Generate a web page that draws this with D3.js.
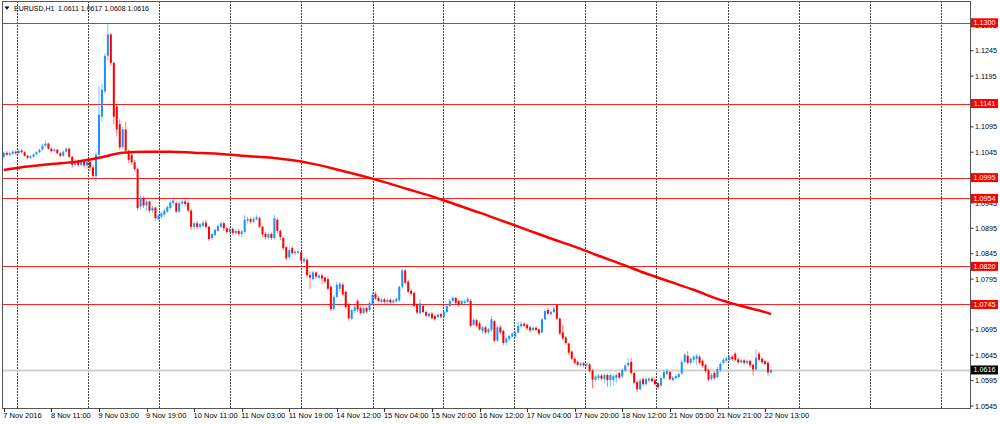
<!DOCTYPE html>
<html><head><meta charset="utf-8">
<script src="https://cdn.jsdelivr.net/npm/d3@7"></script>
<style>html,body{margin:0;padding:0;background:#fff;} svg{display:block;}</style>
</head><body>
<svg id="chart" width="1000" height="424"></svg>
<script>
// ---------- DATA ----------
const symbolTitle = "EURUSD,H1";
const titleQuote = "1.0611 1.0617 1.0608 1.0616";

const timeLabels = ["7 Nov 2016","8 Nov 11:00","9 Nov 03:00","9 Nov 19:00","10 Nov 11:00","11 Nov 03:00",
  "11 Nov 19:00","14 Nov 12:00","15 Nov 04:00","15 Nov 20:00","16 Nov 12:00","17 Nov 04:00",
  "17 Nov 20:00","18 Nov 12:00","21 Nov 05:00","21 Nov 21:00","22 Nov 13:00"];
const timeLabelBars = [0,16,32,48,64,80,96,112,128,144,160,176,192,208,224,240,256];

const gridBars = [4.5,28.4,52.3,76.2,100.1,124.0,147.8,171.7,195.6,219.5,243.4,267.3,291.2,315.1];

const priceTicks = ["1.0545","1.0595","1.0645","1.0695","1.0745","1.0795","1.0845","1.0895","1.0945",
  "1.0995","1.1045","1.1095","1.1145","1.1195","1.1245","1.1295"];

const levelLines = [1.1300, 1.1141, 1.0995, 1.0954, 1.0820, 1.0745];
const lastPrice = 1.0616;

const opens = [
1.1036,1.1044,1.1040,1.1042,1.1046,1.1043,1.1048,1.1045,1.1038,1.1034,
1.1036,1.1041,1.1045,1.1050,1.1058,1.1062,1.1052,1.1047,1.1050,1.1043,
1.1038,1.1046,1.1052,1.1036,1.1020,1.1028,1.1020,1.1027,1.1019,1.1026,
1.1015,1.0998,1.1040,1.1115,1.1165,1.1235,1.1277,1.1221,1.1135,1.1100,
1.1055,1.1090,1.1048,1.1040,1.1025,1.1012,1.0938,1.0955,1.0940,1.0948,
1.0930,1.0936,1.0913,1.0918,1.0922,1.0928,1.0935,1.0945,1.0945,1.0928,
1.0944,1.0948,1.0945,1.0930,1.0898,1.0905,1.0898,1.0900,1.0906,1.0898,
1.0876,1.0882,1.0890,1.0898,1.0905,1.0895,1.0888,1.0894,1.0886,1.0890,
1.0884,1.0888,1.0910,1.0913,1.0908,1.0913,1.0915,1.0898,1.0884,1.0877,
1.0884,1.0876,1.0912,1.0890,1.0876,1.0858,1.0838,1.0856,1.0846,1.0847,
1.0848,1.0830,1.0833,1.0803,1.0795,1.0808,1.0798,1.0802,1.0798,1.0795,
1.0780,1.0736,1.0760,1.0776,1.0784,1.0770,1.0745,1.0717,1.0732,1.0752,
1.0738,1.0728,1.0738,1.0734,1.0746,1.0766,1.0758,1.0750,1.0755,1.0750,
1.0754,1.0749,1.0751,1.0753,1.0780,1.0812,1.0790,1.0772,1.0768,1.0745,
1.0728,1.0742,1.0730,1.0722,1.0727,1.0722,1.0720,1.0726,1.0721,1.0730,
1.0742,1.0752,1.0758,1.0752,1.0746,1.0748,1.0750,1.0752,1.0705,1.0714,
1.0708,1.0693,1.0700,1.0690,1.0695,1.0712,1.0674,1.0700,1.0693,1.0670,
1.0677,1.0682,1.0682,1.0690,1.0702,1.0707,1.0705,1.0700,1.0695,1.0699,
1.0696,1.0690,1.0716,1.0734,1.0726,1.0730,1.0744,1.0717,1.0690,1.0680,
1.0668,1.0652,1.0638,1.0632,1.0625,1.0629,1.0625,1.0627,1.0615,1.0597,
1.0600,1.0605,1.0598,1.0606,1.0596,1.0596,1.0600,1.0610,1.0603,1.0615,
1.0625,1.0632,1.0610,1.0592,1.0578,1.0598,1.0588,1.0595,1.0599,1.0596,
1.0590,1.0585,1.0600,1.0608,1.0612,1.0596,1.0600,1.0602,1.0609,1.0632,
1.0644,1.0630,1.0636,1.0638,1.0642,1.0634,1.0626,1.0616,1.0598,1.0610,
1.0602,1.0616,1.0630,1.0634,1.0636,1.0642,1.0648,1.0637,1.0631,1.0635,
1.0630,1.0634,1.0626,1.0617,1.0648,1.0638,1.0633,1.0630,1.0611];

const highs = [
1.1046,1.1047,1.1045,1.1049,1.1049,1.1050,1.1052,1.1047,1.1040,1.1039,
1.1043,1.1047,1.1052,1.1062,1.1068,1.1064,1.1055,1.1053,1.1052,1.1046,
1.1049,1.1055,1.1054,1.1038,1.1032,1.1031,1.1030,1.1030,1.1030,1.1029,
1.1020,1.1046,1.1175,1.1180,1.1240,1.1299,1.1280,1.1224,1.1140,1.1110,
1.1095,1.1105,1.1050,1.1043,1.1030,1.1015,1.0960,1.0958,1.0952,1.0950,
1.0940,1.0938,1.0923,1.0928,1.0933,1.0940,1.0950,1.0958,1.0948,1.0950,
1.0952,1.0952,1.0950,1.0933,1.0908,1.0910,1.0906,1.0910,1.0912,1.0900,
1.0886,1.0895,1.0903,1.0908,1.0908,1.0898,1.0897,1.0897,1.0893,1.0894,
1.0892,1.0922,1.0918,1.0917,1.0918,1.0921,1.0918,1.0900,1.0888,1.0887,
1.0887,1.0922,1.0916,1.0893,1.0878,1.0860,1.0858,1.0860,1.0852,1.0853,
1.0850,1.0838,1.0836,1.0810,1.0812,1.0810,1.0805,1.0806,1.0800,1.0800,
1.0782,1.0764,1.0790,1.0790,1.0788,1.0772,1.0748,1.0737,1.0744,1.0756,
1.0742,1.0742,1.0741,1.0752,1.0770,1.0770,1.0762,1.0758,1.0758,1.0757,
1.0757,1.0756,1.0760,1.0782,1.0817,1.0815,1.0793,1.0776,1.0770,1.0748,
1.0755,1.0745,1.0733,1.0730,1.0730,1.0725,1.0728,1.0729,1.0733,1.0745,
1.0756,1.0762,1.0760,1.0755,1.0755,1.0754,1.0760,1.0756,1.0718,1.0717,
1.0712,1.0703,1.0703,1.0699,1.0722,1.0715,1.0704,1.0705,1.0696,1.0681,
1.0686,1.0690,1.0693,1.0710,1.0712,1.0710,1.0708,1.0703,1.0702,1.0702,
1.0698,1.0718,1.0736,1.0738,1.0733,1.0741,1.0746,1.0720,1.0705,1.0683,
1.0670,1.0655,1.0641,1.0635,1.0632,1.0632,1.0631,1.0630,1.0618,1.0606,
1.0608,1.0608,1.0610,1.0609,1.0609,1.0608,1.0610,1.0612,1.0619,1.0628,
1.0640,1.0640,1.0613,1.0595,1.0600,1.0601,1.0601,1.0602,1.0602,1.0599,
1.0592,1.0603,1.0616,1.0618,1.0614,1.0604,1.0607,1.0611,1.0635,1.0650,
1.0653,1.0642,1.0646,1.0648,1.0645,1.0637,1.0628,1.0618,1.0610,1.0613,
1.0622,1.0632,1.0640,1.0642,1.0645,1.0646,1.0652,1.0640,1.0638,1.0638,
1.0637,1.0636,1.0628,1.0657,1.0652,1.0642,1.0636,1.0634,1.0617];

const lows = [
1.1032,1.1038,1.1036,1.1040,1.1040,1.1041,1.1042,1.1036,1.1031,1.1031,
1.1034,1.1039,1.1043,1.1048,1.1055,1.1050,1.1044,1.1045,1.1041,1.1035,
1.1036,1.1044,1.1033,1.1015,1.1016,1.1016,1.1017,1.1015,1.1012,1.1008,
1.0993,1.0987,1.1036,1.1105,1.1160,1.1225,1.1215,1.1100,1.1076,1.1050,
1.1050,1.1045,1.1024,1.1020,1.1008,1.0930,1.0932,1.0935,1.0930,1.0925,
1.0925,1.0910,1.0910,1.0915,1.0918,1.0925,1.0932,1.0940,1.0925,1.0925,
1.0940,1.0938,1.0927,1.0892,1.0892,1.0893,1.0894,1.0897,1.0895,1.0870,
1.0872,1.0880,1.0888,1.0895,1.0890,1.0884,1.0885,1.0883,1.0882,1.0880,
1.0878,1.0885,1.0905,1.0904,1.0905,1.0910,1.0895,1.0878,1.0873,1.0873,
1.0872,1.0872,1.0885,1.0872,1.0852,1.0832,1.0834,1.0843,1.0842,1.0844,
1.0828,1.0826,1.0798,1.0776,1.0792,1.0796,1.0795,1.0785,1.0786,1.0773,
1.0732,1.0733,1.0757,1.0770,1.0762,1.0736,1.0713,1.0714,1.0728,1.0730,
1.0725,1.0726,1.0727,1.0730,1.0744,1.0754,1.0749,1.0747,1.0747,1.0746,
1.0746,1.0745,1.0748,1.0750,1.0776,1.0785,1.0767,1.0762,1.0739,1.0726,
1.0725,1.0727,1.0720,1.0718,1.0715,1.0713,1.0717,1.0718,1.0719,1.0728,
1.0740,1.0749,1.0745,1.0740,1.0744,1.0745,1.0748,1.0700,1.0702,1.0700,
1.0693,1.0688,1.0686,1.0686,1.0692,1.0670,1.0671,1.0686,1.0665,1.0665,
1.0673,1.0679,1.0680,1.0688,1.0699,1.0700,1.0695,1.0690,1.0692,1.0692,
1.0684,1.0688,1.0714,1.0724,1.0722,1.0728,1.0714,1.0685,1.0675,1.0665,
1.0646,1.0635,1.0627,1.0623,1.0622,1.0621,1.0622,1.0611,1.0580,1.0593,
1.0596,1.0595,1.0590,1.0583,1.0583,1.0585,1.0590,1.0598,1.0600,1.0612,
1.0622,1.0607,1.0588,1.0572,1.0575,1.0584,1.0584,1.0591,1.0591,1.0585,
1.0578,1.0582,1.0597,1.0605,1.0595,1.0593,1.0597,1.0599,1.0606,1.0630,
1.0627,1.0627,1.0630,1.0625,1.0627,1.0620,1.0610,1.0594,1.0595,1.0596,
1.0599,1.0612,1.0626,1.0630,1.0632,1.0634,1.0633,1.0628,1.0628,1.0627,
1.0627,1.0622,1.0605,1.0614,1.0633,1.0628,1.0625,1.0605,1.0608];

const closes = [
1.1044,1.1040,1.1043,1.1046,1.1043,1.1048,1.1045,1.1038,1.1034,1.1037,
1.1041,1.1045,1.1050,1.1058,1.1062,1.1052,1.1047,1.1050,1.1043,1.1038,
1.1046,1.1052,1.1036,1.1020,1.1028,1.1020,1.1027,1.1019,1.1026,1.1015,
1.0998,1.1040,1.1119,1.1168,1.1235,1.1277,1.1221,1.1115,1.1090,1.1055,
1.1090,1.1048,1.1030,1.1025,1.1012,1.0935,1.0955,1.0940,1.0948,1.0930,
1.0936,1.0915,1.0920,1.0925,1.0930,1.0937,1.0946,1.0950,1.0928,1.0945,
1.0948,1.0943,1.0930,1.0898,1.0905,1.0898,1.0903,1.0906,1.0898,1.0874,
1.0884,1.0892,1.0900,1.0905,1.0895,1.0888,1.0894,1.0886,1.0890,1.0884,
1.0889,1.0912,1.0913,1.0908,1.0914,1.0917,1.0898,1.0883,1.0878,1.0884,
1.0876,1.0915,1.0890,1.0878,1.0856,1.0836,1.0852,1.0846,1.0849,1.0850,
1.0832,1.0835,1.0803,1.0798,1.0808,1.0800,1.0802,1.0796,1.0790,1.0776,
1.0736,1.0760,1.0784,1.0786,1.0765,1.0740,1.0718,1.0734,1.0740,1.0735,
1.0728,1.0738,1.0731,1.0748,1.0764,1.0757,1.0752,1.0755,1.0750,1.0754,
1.0749,1.0753,1.0756,1.0780,1.0812,1.0788,1.0770,1.0766,1.0742,1.0729,
1.0747,1.0730,1.0723,1.0727,1.0718,1.0716,1.0725,1.0721,1.0730,1.0742,
1.0752,1.0758,1.0748,1.0744,1.0752,1.0751,1.0756,1.0703,1.0715,1.0703,
1.0696,1.0700,1.0690,1.0696,1.0716,1.0674,1.0700,1.0690,1.0669,1.0678,
1.0683,1.0688,1.0690,1.0703,1.0707,1.0703,1.0698,1.0694,1.0699,1.0695,
1.0688,1.0716,1.0732,1.0727,1.0730,1.0737,1.0717,1.0688,1.0678,1.0669,
1.0650,1.0638,1.0630,1.0626,1.0629,1.0625,1.0628,1.0614,1.0597,1.0603,
1.0605,1.0599,1.0606,1.0596,1.0606,1.0604,1.0606,1.0601,1.0616,1.0625,
1.0630,1.0610,1.0591,1.0578,1.0595,1.0588,1.0598,1.0599,1.0594,1.0588,
1.0582,1.0600,1.0612,1.0614,1.0598,1.0601,1.0604,1.0608,1.0632,1.0646,
1.0630,1.0638,1.0642,1.0644,1.0630,1.0624,1.0614,1.0597,1.0606,1.0600,
1.0618,1.0628,1.0636,1.0639,1.0642,1.0637,1.0636,1.0631,1.0635,1.0630,
1.0634,1.0625,1.0617,1.0640,1.0636,1.0631,1.0628,1.0611,1.0616];

const maBars = [0,8,16,24,32,40,48,56,64,72,80,88,96,104,112,120,128,136,144,152,160,168,176,184,192,200,208,216,224,232,240,248,256,258];
const maValues = [1.1010,1.1017,1.1022,1.1026,1.1034,1.1044,1.1046,1.1046,1.1044,1.1042,1.1038,1.1035,1.1030,1.1022,1.1011,1.0999,1.0986,1.0972,1.0958,1.0942,1.0926,1.0909,1.0892,1.0875,1.0859,1.0841,1.0824,1.0806,1.0790,1.0774,1.0756,1.0742,1.0730,1.0726];

// ---------- LAYOUT ----------
const plotLeft = 2, plotRight = 970, plotTop = 1, plotBottom = 408;
const bullColor = "#1e90ff", bearColor = "#ff0000";
const font = "'Liberation Sans', Arial, sans-serif";

const svg = d3.select("#chart");
const x = d3.scaleLinear().domain([0, 256]).range([3.8, 765]);
const y = d3.scaleLinear().domain([1.0545, 1.1300]).range([406, 22.8]);
const crispY = v => Math.round(y(v)) + 0.5;

svg.append("rect").attr("width", 1000).attr("height", 424).attr("fill", "#fff");

// vertical dashed grid
svg.append("g").selectAll("line").data(gridBars).join("line")
  .attr("x1", d => Math.round(x(d)) + 0.5).attr("x2", d => Math.round(x(d)) + 0.5)
  .attr("y1", plotTop).attr("y2", plotBottom)
  .attr("stroke", "#444").attr("stroke-width", 1).attr("stroke-dasharray", "2,1");

// last price line
svg.append("line").attr("x1", plotLeft).attr("x2", plotRight)
  .attr("y1", crispY(lastPrice)).attr("y2", crispY(lastPrice))
  .attr("stroke", "#cfcfcf").attr("stroke-width", 2);

// horizontal level lines
svg.append("g").selectAll("line").data(levelLines).join("line")
  .attr("x1", plotLeft).attr("x2", plotRight)
  .attr("y1", d => crispY(d)).attr("y2", d => crispY(d))
  .attr("stroke", "#ff2020").attr("stroke-width", 1.2);

// candles
const bars = d3.range(closes.length).map(i => ({i, o: opens[i], h: highs[i], l: lows[i], c: closes[i]}));
const cg = svg.append("g");
cg.selectAll("line.wick").data(bars).join("line").attr("class", "wick")
  .attr("x1", d => x(d.i)).attr("x2", d => x(d.i))
  .attr("y1", d => y(d.h)).attr("y2", d => y(d.l))
  .attr("stroke", d => d.c >= d.o ? bullColor : bearColor)
  .attr("stroke-opacity", 0.55).attr("stroke-width", 1);
cg.selectAll("rect.body").data(bars).join("rect").attr("class", "body")
  .attr("x", d => x(d.i) - 1).attr("width", 2)
  .attr("y", d => y(Math.max(d.o, d.c)))
  .attr("height", d => Math.max(1, Math.abs(y(d.o) - y(d.c))))
  .attr("fill", d => d.c >= d.o ? bullColor : bearColor);

// moving average
const maPts = maBars.map((b, k) => [b, maValues[k]]);
svg.append("path").datum(maPts)
  .attr("d", d3.line().x(d => x(d[0])).y(d => y(d[1])).curve(d3.curveMonotoneX))
  .attr("fill", "none").attr("stroke", "#ff0000").attr("stroke-width", 2.5);

// frame
svg.append("rect").attr("x", plotLeft + 0.5).attr("y", plotTop + 0.5)
  .attr("width", plotRight - plotLeft).attr("height", plotBottom - plotTop)
  .attr("fill", "none").attr("stroke", "#555").attr("stroke-width", 1);

// price axis (right)
const pa = svg.append("g");
pa.selectAll("line").data(priceTicks).join("line")
  .attr("x1", plotRight + 0.5).attr("x2", plotRight + 3.5)
  .attr("y1", d => y(+d)).attr("y2", d => y(+d))
  .attr("stroke", "#333");
pa.selectAll("text").data(priceTicks).join("text")
  .attr("x", plotRight + 5).attr("y", d => y(+d))
  .attr("dy", "0.35em").attr("font-family", font).attr("font-size", 7.2)
  .attr("fill", "#000").text(d => d);

// level labels
const ll = svg.append("g");
ll.selectAll("rect").data(levelLines).join("rect")
  .attr("x", plotRight + 1).attr("y", d => y(d) - 4.5).attr("width", 27).attr("height", 9)
  .attr("fill", "#ff0000");
ll.selectAll("text").data(levelLines).join("text")
  .attr("x", plotRight + 14.5).attr("y", d => y(d)).attr("dy", "0.35em")
  .attr("text-anchor", "middle").attr("font-family", font).attr("font-size", 7.2)
  .attr("fill", "#fff").text(d => d.toFixed(4));
ll.append("rect").attr("x", plotRight + 1).attr("y", y(lastPrice) - 4.5)
  .attr("width", 27).attr("height", 9).attr("fill", "#000");
ll.append("text").attr("x", plotRight + 14.5).attr("y", y(lastPrice)).attr("dy", "0.35em")
  .attr("text-anchor", "middle").attr("font-family", font).attr("font-size", 7.2)
  .attr("fill", "#fff").text(lastPrice.toFixed(4));

// time axis (bottom)
const ta = svg.append("g");
ta.selectAll("line").data(timeLabelBars).join("line")
  .attr("x1", d => Math.round(x(d)) + 0.5).attr("x2", d => Math.round(x(d)) + 0.5)
  .attr("y1", plotBottom).attr("y2", plotBottom + 4).attr("stroke", "#333");
ta.selectAll("text").data(timeLabels).join("text")
  .attr("x", (d, k) => x(timeLabelBars[k]) - 0.5).attr("y", 417.5)
  .attr("font-family", font).attr("font-size", 7.5).attr("fill", "#000").text(d => d);

// title
svg.append("path").attr("d", "M4.5,6.5 L9.5,6.5 L7,9.8 Z").attr("fill", "#000");
svg.append("text").attr("x", 14).attr("y", 10.5).attr("font-family", font).attr("font-size", 7)
  .attr("fill", "#000").text(symbolTitle);
svg.append("text").attr("x", 58).attr("y", 10.5).attr("font-family", font).attr("font-size", 7)
  .attr("fill", "#000").text(titleQuote);
</script>
</body></html>
